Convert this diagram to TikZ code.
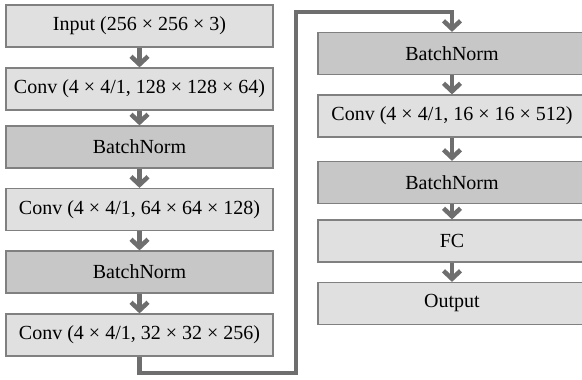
\documentclass[tikz,border=0pt]{standalone}
\usepackage{fontspec}
\setmainfont{Liberation Serif}
\usetikzlibrary{arrows.meta}
\definecolor{boxlight}{gray}{0.88}
\definecolor{boxdark}{gray}{0.78}
\definecolor{boxline}{gray}{0.5}
\definecolor{arrgray}{gray}{0.43}
\begin{document}
\begin{tikzpicture}[x=1pt,y=-1pt]
	\tikzstyle{lbox}=[draw=boxline,line width=1.2pt,fill=boxlight,minimum height=42pt,inner sep=0pt,font=\fontsize{20}{24}\selectfont];
	\tikzstyle{dbox}=[lbox,fill=boxdark];
	\tikzstyle{link}=[draw=arrgray,line width=4.5pt];
	\tikzstyle{step arrow}=[link,-{Straight Barb[length=8pt,width=17pt]}];
	\useasboundingbox (0,0) rectangle (582,380);
	% left column
	\node[lbox,minimum width=267pt] (in) at (139.5,26) {Input (256 × 256 × 3)};
	\node[lbox,minimum width=267pt] (c1) at (139.5,89) {Conv (4 × 4/1, 128 × 128 × 64)};
	\node[dbox,minimum width=267pt] (bn1) at (139.5,147) {BatchNorm};
	\node[lbox,minimum width=267pt] (c2) at (139.5,209.5) {Conv (4 × 4/1, 64 × 64 × 128)};
	\node[dbox,minimum width=267pt] (bn2) at (139.5,272) {BatchNorm};
	\node[lbox,minimum width=267pt] (c3) at (139.5,335) {Conv (4 × 4/1, 32 × 32 × 256)};
	% right column
	\node[dbox,minimum width=268pt] (bn3) at (452,53.5) {BatchNorm};
	\node[lbox,minimum width=268pt] (c4) at (452,116) {Conv (4 × 4/1, 16 × 16 × 512)};
	\node[dbox,minimum width=268pt] (bn4) at (452,182.5) {BatchNorm};
	\node[lbox,minimum width=268pt] (fc) at (452,241) {FC};
	\node[lbox,minimum width=268pt] (out) at (452,303.5) {Output};
	\foreach \a/\b in {in/c1,c1/bn1,bn1/c2,c2/bn2,bn2/c3,bn3/c4,c4/bn4,bn4/fc,fc/out}
		\draw[step arrow] (\a.south) -- (\b.north);
	\coordinate (lowturn) at (296,373);
	\coordinate (highturn) at (296,12);
	\draw[step arrow] (c3.south) |- (lowturn) -- (highturn) -| (bn3.north);
\end{tikzpicture}
\end{document}
